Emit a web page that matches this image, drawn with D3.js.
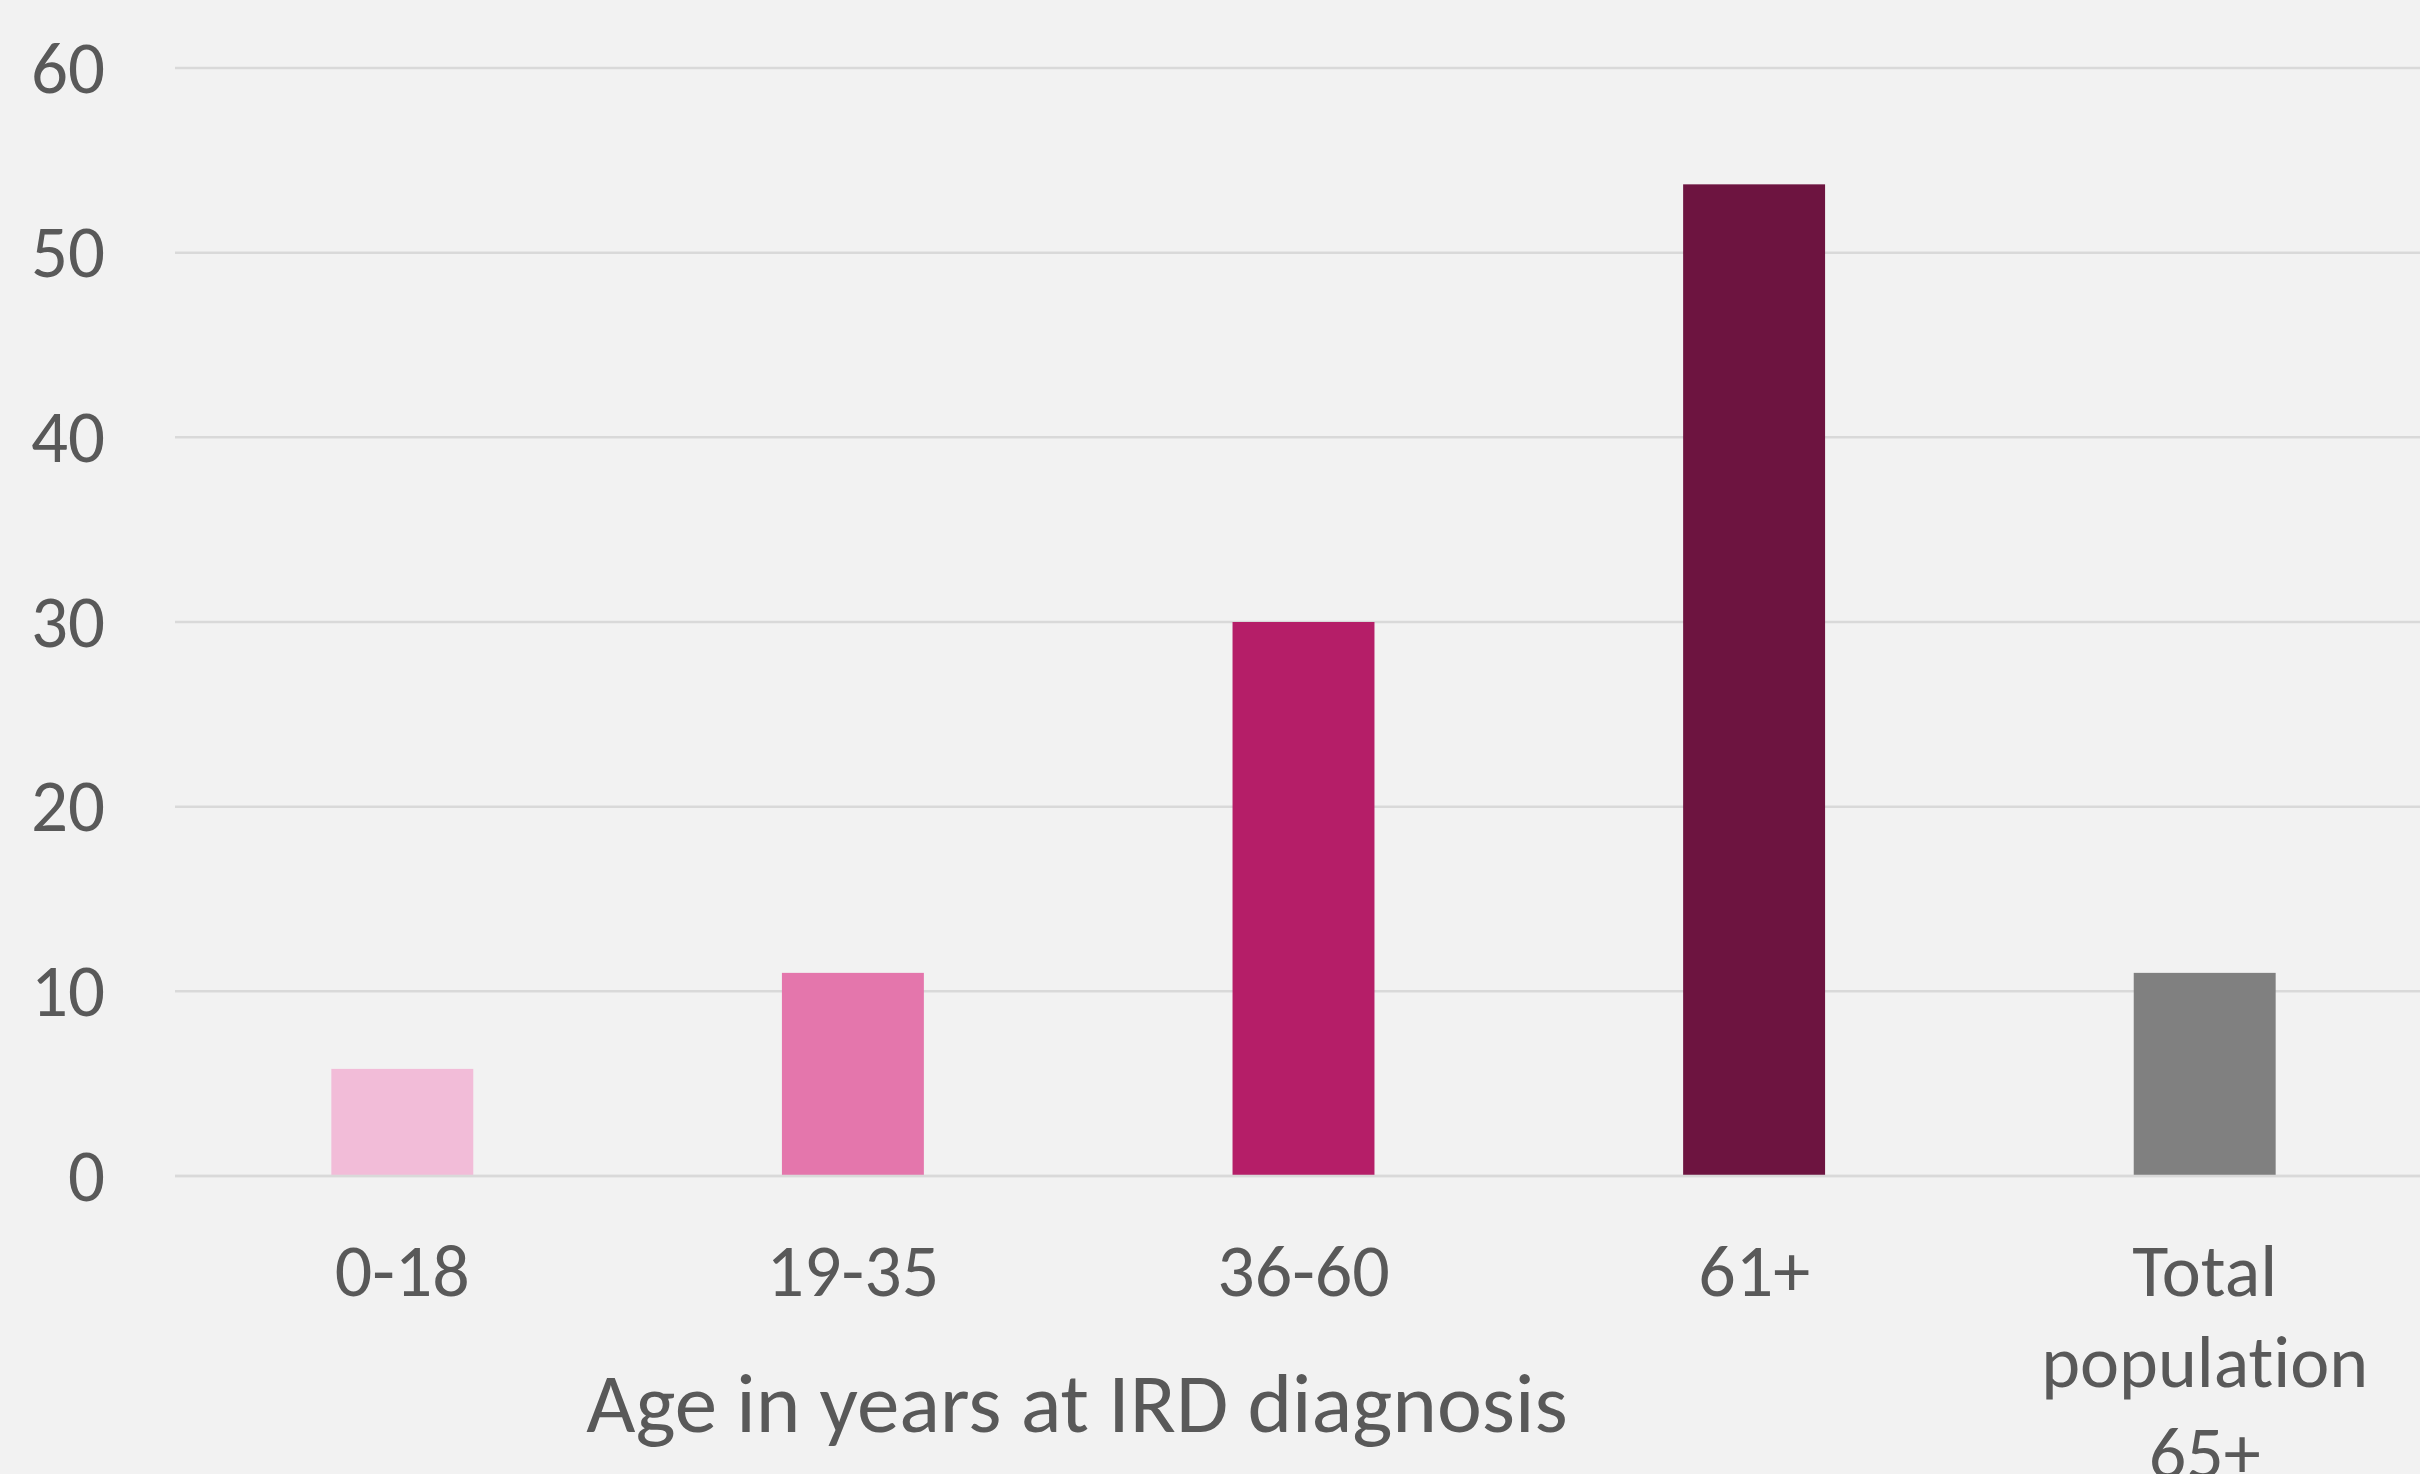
<!DOCTYPE html>
<html>
<head>
<meta charset="utf-8">
<script src="https://cdn.jsdelivr.net/npm/d3@7"></script>
<style>
  html, body { margin: 0; padding: 0; background: #f2f2f2; overflow: hidden; }
  svg { display: block; }
  text { font-family: Carlito, Lato, "Open Sans", sans-serif; fill: #595959; font-variant-ligatures: none; }
</style>
</head>
<body>
<svg id="chart" width="2420" height="1474"></svg>
<script>
// Age groups at IRD diagnosis plus the reference population
const categories = ["0-18", "19-35", "36-60", "61+", "Total population 65+"];
const values = [5.8, 11, 30, 53.7, 11];
const barColors = ["#f2bcd8", "#e476ac", "#b51e68", "#6d1440", "#808080"];
const yTicks = [0, 10, 20, 30, 40, 50, 60];
const xAxisTitle = "Age in years at IRD diagnosis";

const svg = d3.select("#chart");
const W = 2420, H = 1474;
const fontStack = "Carlito, Lato, 'Open Sans', sans-serif";

svg.append("rect").attr("width", W).attr("height", H).attr("fill", "#f2f2f2");

const x = d3.scaleBand()
  .domain(categories)
  .range([177, 2430])
  .paddingInner(0.685)
  .paddingOuter(0.3425);

const y = d3.scaleLinear().domain([0, 60]).range([1176, 68]);

// Horizontal gridlines
svg.append("g")
  .selectAll("line")
  .data(yTicks)
  .join("line")
  .attr("x1", 175)
  .attr("x2", 2430)
  .attr("y1", d => y(d))
  .attr("y2", d => y(d))
  .attr("stroke", "#d9d9d9")
  .attr("stroke-width", 2.5);

// Y axis labels
const yAxis = d3.axisLeft(y).tickValues(yTicks).tickSize(0).tickPadding(0);
const gy = svg.append("g").attr("transform", "translate(105,0)").call(yAxis);
gy.select(".domain").remove();
gy.selectAll("text")
  .attr("font-size", 73)
  .attr("fill", "#595959")
  .attr("dy", "0.33em")
  .style("font-family", fontStack);

// Bars
svg.append("g")
  .selectAll("rect")
  .data(categories)
  .join("rect")
  .attr("x", d => x(d))
  .attr("width", x.bandwidth())
  .attr("y", (d, i) => y(values[i]))
  .attr("height", (d, i) => y(0) - y(values[i]))
  .attr("fill", (d, i) => barColors[i]);

// Baseline redrawn over bars
svg.append("line")
  .attr("x1", 175).attr("x2", 2430)
  .attr("y1", y(0)).attr("y2", y(0))
  .attr("stroke", "#d9d9d9").attr("stroke-width", 2.5);

// Category labels, wrapped so the long one spans several lines
const xAxis = d3.axisBottom(x).tickSize(0).tickPadding(0).tickFormat("");
const gx = svg.append("g").attr("transform", `translate(0,${y(0)})`).call(xAxis);
gx.select(".domain").remove();
gx.selectAll(".tick").each(function(d) {
  const words = d.length > 10 ? d.split(" ") : [d];
  const t = d3.select(this).append("text")
    .attr("text-anchor", "middle")
    .attr("font-size", 74)
    .attr("fill", "#595959")
    .style("font-family", fontStack);
  words.forEach((w, i) => {
    t.append("tspan").attr("x", 0).attr("y", 120 + i * 91).text(w);
  });
});

// Axis title
svg.append("text")
  .attr("x", 1077)
  .attr("y", 1432)
  .attr("text-anchor", "middle")
  .attr("font-size", 85)
  .text(xAxisTitle);
</script>
</body>
</html>
